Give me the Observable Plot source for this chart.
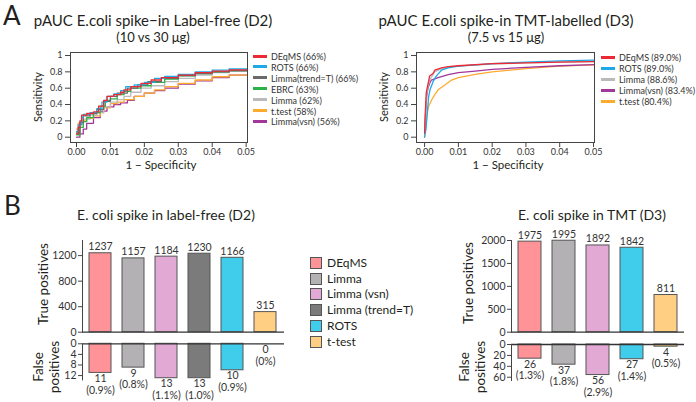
<!DOCTYPE html>
<html><head><meta charset="utf-8">
<script src="https://cdn.jsdelivr.net/npm/d3@7"></script>
<script src="https://cdn.jsdelivr.net/npm/@observablehq/plot@0.6"></script>
<style>
body{margin:0;background:#fff;}
#fig{position:relative;width:696px;height:402px;overflow:hidden;font-family:Lato,"Noto Sans",sans-serif;color:#231f20;background:#fff;}
.t{position:absolute;white-space:nowrap;line-height:1;}
.c{transform:translate(-50%,-50%);}
.l{transform:translate(0,-50%);}
.r{transform:translate(-50%,-50%) rotate(-90deg);text-align:center;}
.plot{position:absolute;}
.plot svg{overflow:visible;}
</style></head><body><div id="fig"></div>
<script>
// ---------- Panel A data (ROC curves) ----------
const methodsD2 = ["DEqMS","ROTS","Limma(trend=T)","EBRC","Limma","t.test","Limma(vsn)"];
const pAucD2 = ["66%","66%","66%","63%","62%","58%","56%"];
const rocD2DEqMS = [[0,0.04],[0.0005,0.12],[0.001,0.2],[0.0015,0.27],[0.003,0.29],[0.005,0.31],[0.0065,0.38],[0.008,0.45],[0.009,0.5],[0.011,0.52],[0.013,0.55],[0.014,0.58],[0.016,0.62],[0.019,0.66],[0.022,0.7],[0.025,0.73],[0.03,0.76],[0.035,0.79],[0.04,0.81],[0.045,0.825],[0.0505,0.84]];
const rocD2ROTS = [[0,0.07],[0.0005,0.15],[0.0015,0.24],[0.002,0.28],[0.004,0.3],[0.006,0.35],[0.0075,0.43],[0.009,0.5],[0.011,0.53],[0.013,0.57],[0.0145,0.62],[0.017,0.64],[0.02,0.67],[0.023,0.72],[0.026,0.745],[0.03,0.77],[0.035,0.8],[0.04,0.82],[0.045,0.835],[0.0505,0.85]];
const rocD2Trend = [[0,0.05],[0.001,0.18],[0.002,0.26],[0.004,0.29],[0.006,0.34],[0.008,0.44],[0.01,0.5],[0.012,0.54],[0.015,0.6],[0.018,0.64],[0.021,0.68],[0.025,0.72],[0.03,0.755],[0.035,0.78],[0.04,0.8],[0.045,0.815],[0.0505,0.825]];
const rocD2EBRC = [[0,0.03],[0.001,0.12],[0.002,0.19],[0.003,0.24],[0.005,0.3],[0.007,0.38],[0.0085,0.45],[0.01,0.47],[0.012,0.52],[0.014,0.56],[0.016,0.6],[0.019,0.63],[0.022,0.67],[0.026,0.71],[0.03,0.75],[0.035,0.78],[0.04,0.8],[0.045,0.815],[0.0505,0.83]];
const rocD2Limma = [[0,0.06],[0.001,0.16],[0.002,0.22],[0.004,0.27],[0.006,0.3],[0.008,0.37],[0.01,0.43],[0.012,0.46],[0.014,0.5],[0.016,0.55],[0.019,0.6],[0.022,0.63],[0.026,0.68],[0.03,0.72],[0.035,0.76],[0.04,0.79],[0.045,0.805],[0.0505,0.815]];
const rocD2TTest = [[0,0.1],[0.0005,0.17],[0.0015,0.2],[0.003,0.23],[0.005,0.26],[0.007,0.3],[0.008,0.36],[0.01,0.41],[0.012,0.43],[0.014,0.46],[0.017,0.5],[0.02,0.54],[0.023,0.58],[0.026,0.62],[0.03,0.66],[0.035,0.7],[0.04,0.74],[0.045,0.76],[0.0505,0.78]];
const rocD2Vsn = [[0,0.0],[0.001,0.04],[0.002,0.1],[0.003,0.17],[0.005,0.24],[0.007,0.32],[0.009,0.37],[0.011,0.4],[0.013,0.42],[0.015,0.45],[0.017,0.5],[0.02,0.54],[0.023,0.57],[0.026,0.6],[0.03,0.65],[0.035,0.69],[0.04,0.73],[0.045,0.76],[0.0505,0.8]];
const rocD2 = [rocD2DEqMS, rocD2ROTS, rocD2Trend, rocD2EBRC, rocD2Limma, rocD2TTest, rocD2Vsn];

const methodsD3 = ["DEqMS","ROTS","Limma","Limma(vsn)","t.test"];
const pAucD3 = ["89.0%","89.0%","88.6%","83.4%","80.4%"];
const rocD3DEqMS = [[0,0.05],[0.0002,0.3],[0.0005,0.55],[0.001,0.65],[0.0015,0.75],[0.0025,0.78],[0.003,0.82],[0.005,0.85],[0.007,0.865],[0.01,0.875],[0.02,0.9],[0.03,0.91],[0.04,0.92],[0.0505,0.925]];
const rocD3ROTS = [[0,0.0],[0.0004,0.1],[0.0008,0.3],[0.0012,0.5],[0.0016,0.58],[0.0025,0.68],[0.0035,0.75],[0.005,0.82],[0.007,0.85],[0.01,0.87],[0.02,0.9],[0.03,0.92],[0.04,0.935],[0.0505,0.945]];
const rocD3Limma = [[0,0.05],[0.0003,0.3],[0.0006,0.52],[0.001,0.62],[0.0015,0.7],[0.003,0.8],[0.005,0.84],[0.007,0.86],[0.01,0.87],[0.02,0.895],[0.03,0.91],[0.04,0.92],[0.0505,0.93]];
const rocD3Vsn = [[0,0.05],[0.0003,0.3],[0.0006,0.5],[0.001,0.6],[0.0015,0.66],[0.002,0.7],[0.004,0.73],[0.007,0.765],[0.01,0.79],[0.015,0.81],[0.02,0.83],[0.03,0.855],[0.04,0.875],[0.0505,0.89]];
const rocD3TTest = [[0,0.0],[0.0004,0.15],[0.0008,0.3],[0.0012,0.38],[0.002,0.45],[0.003,0.52],[0.004,0.58],[0.006,0.64],[0.008,0.7],[0.01,0.73],[0.015,0.77],[0.02,0.8],[0.03,0.84],[0.04,0.87],[0.0505,0.885]];
const rocD3 = [rocD3DEqMS, rocD3ROTS, rocD3Limma, rocD3Vsn, rocD3TTest];

const rocXTicks = [0, 0.01, 0.02, 0.03, 0.04, 0.05];
const rocYTicks = [0, 0.2, 0.4, 0.6, 0.8, 1];

// ---------- Panel B data (bar charts) ----------
const barMethodsD2 = ["DEqMS","Limma","Limma (vsn)","Limma (trend=T)","ROTS","t-test"];
const tpD2 = [1237, 1157, 1184, 1230, 1166, 315];
const fpD2 = [11, 9, 13, 13, 10, 0];
const fpPctD2 = ["0.9%","0.8%","1.1%","1.0%","0.9%","0%"];
const tpTicksD2 = [0, 400, 800, 1200];
const fpTicksD2 = [0, 4, 8, 12];

const barMethodsD3 = ["DEqMS","Limma","Limma (vsn)","ROTS","t-test"];
const tpD3 = [1975, 1995, 1892, 1842, 811];
const fpD3 = [26, 37, 56, 27, 4];
const fpPctD3 = ["1.3%","1.8%","2.9%","1.4%","0.5%"];
const tpTicksD3 = [0, 500, 1000, 1500, 2000];
const fpTicksD3 = [0, 20, 40, 60];

const legendMethods = ["DEqMS","Limma","Limma (vsn)","Limma (trend=T)","ROTS","t-test"];

// ---------- styles ----------
const rocColor = {"DEqMS":"#ed2a33","ROTS":"#1eaae7","Limma(trend=T)":"#6a6a6a","EBRC":"#2bb34a","Limma":"#bababa","t.test":"#fdab2f","Limma(vsn)":"#a2379b"};
const barColor = {"DEqMS":"#ff9398","Limma":"#b3b1b3","Limma (vsn)":"#e1a9d3","Limma (trend=T)":"#7b7b7b","ROTS":"#40cdec","t-test":"#ffd084"};
const FONT = 'Lato, "Noto Sans", sans-serif';

const fig = document.getElementById("fig");
function place(node, left, top) {
  const d = document.createElement("div");
  d.className = "plot"; d.style.left = left + "px"; d.style.top = top + "px";
  d.appendChild(node); fig.appendChild(d);
}
function txt(s, x, y, size, cls, extra) {
  const d = document.createElement("div");
  d.className = "t " + cls; d.textContent = s;
  d.style.left = x + "px"; d.style.top = y + "px"; d.style.fontSize = size + "px";
  if (extra) Object.assign(d.style, extra);
  fig.appendChild(d); return d;
}

function rocPlot(methods, series, xDomain, curve, marginLeft, marginRight) {
  const rows = [];
  for (let i = methods.length - 1; i >= 0; i--)
    for (const [x, y] of series[i]) rows.push({method: methods[i], x, y});
  return Plot.plot({
    width: 250, height: 136,
    marginLeft, marginRight, marginTop: 12, marginBottom: 34,
    style: {fontFamily: FONT, fontSize: "9px", color: "#333", background: "transparent"},
    x: {domain: xDomain},
    y: {domain: [-0.065, 1.037]},
    color: {domain: Object.keys(rocColor), range: Object.values(rocColor)},
    marks: [
      Plot.line(rows, {x: "x", y: "y", z: "method", stroke: "method", strokeWidth: 1.3, curve, clip: true}),
      Plot.frame({stroke: "#444", strokeWidth: 1}),
      Plot.axisX({ticks: rocXTicks, tickFormat: d3.format(".2f"), tickSize: 5, tickPadding: 1, label: null, stroke: "#444"}),
      Plot.axisY({ticks: rocYTicks, tickFormat: d3.format("~g"), tickSize: 5, tickPadding: 3, label: null, stroke: "#444"})
    ]
  });
}

function tpPlot(methods, tp, yDomain, ticks, width, marginLeft, marginRight) {
  const rows = methods.map((m, i) => ({m, v: tp[i]}));
  return Plot.plot({
    width, height: 104, marginLeft, marginRight, marginTop: 10, marginBottom: 2.3,
    style: {fontFamily: FONT, fontSize: "10.5px", color: "#333", background: "transparent"},
    x: {domain: methods, paddingInner: 0.33, paddingOuter: 0.165, axis: null},
    y: {domain: yDomain},
    color: {domain: Object.keys(barColor), range: Object.values(barColor)},
    marks: [
      Plot.barY(rows, {x: "m", y: "v", fill: "m", stroke: "#555", strokeWidth: 1}),
      Plot.text(rows, {x: "m", y: "v", text: d => String(d.v), lineAnchor: "bottom", dy: -3, fontSize: 10.5, fill: "#333"}),
      Plot.ruleY([0], {stroke: "#333", strokeWidth: 1.3}),
      Plot.frame({anchor: "left", stroke: "#444"}),
      Plot.axisY({ticks, tickFormat: d3.format("d"), tickSize: 4, tickPadding: 2, label: null, stroke: "#444"})
    ]
  });
}

function fpPlot(methods, fp, pct, yDomain, ticks, width, marginLeft, marginRight, marginTop) {
  const rows = methods.map((m, i) => ({m, v: fp[i], p: pct[i]}));
  return Plot.plot({
    width, height: 64, marginLeft, marginRight, marginTop, marginBottom: 64 - marginTop - 36,
    style: {fontFamily: FONT, fontSize: "10.5px", color: "#333", background: "transparent"},
    x: {domain: methods, paddingInner: 0.33, paddingOuter: 0.165, axis: null},
    y: {domain: yDomain, reverse: true},
    color: {domain: Object.keys(barColor), range: Object.values(barColor)},
    marks: [
      Plot.barY(rows, {x: "m", y: "v", fill: "m", stroke: "#555", strokeWidth: 1}),
      Plot.text(rows, {x: "m", y: "v", text: d => d.v + "\n(" + d.p + ")", lineAnchor: "top", dy: 1, lineHeight: 1.1, fontSize: 10.5, fill: "#333"}),
      Plot.ruleY([0], {stroke: "#333", strokeWidth: 1.3}),
      Plot.frame({anchor: "left", stroke: "#444"}),
      Plot.axisY({ticks, tickFormat: d3.format("d"), tickSize: 4, tickPadding: 2, label: null, stroke: "#444"})
    ]
  });
}

// ---------- Panel A ----------
txt("A", 3, 2, 26, "", {transform: "none"});
txt("pAUC E.coli spike\u2212in Label-free (D2)", 153, 20, 15, "c");
txt("(10 vs 30 \u03bcg)", 153, 37, 13, "c");
place(rocPlot(methodsD2, rocD2, [-0.00177, 0.0504], "step-after", 70, 3), 0, 40);
txt("Sensitivity", 37, 97, 11, "r");
txt("1 \u2212 Specificity", 161, 165, 11.5, "c");

txt("pAUC E.coli spike-in TMT-labelled (D3)", 506, 20, 15, "c");
txt("(7.5 vs 15 \u03bcg)", 506, 37, 13, "c");
place(rocPlot(methodsD3, rocD3, [-0.0024, 0.0503], "linear", 70, 2), 346, 40);
txt("Sensitivity", 383, 97, 11, "r");
txt("1 \u2212 Specificity", 508, 165, 11.5, "c");

function rocLegend(methods, auc, x, y0, step) {
  methods.forEach((m, i) => {
    const y = y0 + i * step;
    const sw = document.createElement("div");
    sw.style.cssText = `position:absolute;left:${x}px;top:${y - 1.5}px;width:14px;height:3px;background:${rocColor[m]}`;
    fig.appendChild(sw);
    const label = m + " (" + auc[i] + ")";
    txt(label, x + 18, y, 9, "l", {color: "#333"});
  });
}
rocLegend(methodsD2, pAucD2, 253, 56, 10.9);
rocLegend(methodsD3, pAucD3, 601, 57, 11);

// ---------- Panel B ----------
txt("B", 4, 192, 26, "", {transform: "none"});
txt("E. coli spike in label-free (D2)", 166, 215, 14, "c");
place(tpPlot(barMethodsD2, tpD2, [0, 1437], tpTicksD2, 290, 82, 6), 0, 230);
place(fpPlot(barMethodsD2, fpD2, fpPctD2, [0, 13.6], fpTicksD2, 290, 82, 6, 5.3), 0, 338);
txt("True positives", 44, 284, 13.5, "r");
txt("False\npositives", 46, 367, 13.5, "r", {whiteSpace: "pre", lineHeight: "16px"});

txt("E. coli spike in TMT (D3)", 592, 215, 14, "c");
place(tpPlot(barMethodsD3, tpD3, [0, 2000], tpTicksD3, 345, 165, 7), 346, 230);
place(fpPlot(barMethodsD3, fpD3, fpPctD3, [0, 66], fpTicksD3, 345, 165, 7, 6), 346, 338);
txt("True positives", 469, 283, 13.5, "r");
txt("False\npositives", 472, 367, 13.5, "r", {whiteSpace: "pre", lineHeight: "16px"});

legendMethods.forEach((m, i) => {
  const y = 262.7 + i * 15.8;
  const b = document.createElement("div");
  b.style.cssText = `position:absolute;left:310px;top:${y - 6}px;width:10px;height:10px;background:${barColor[m]};border:1px solid #555`;
  fig.appendChild(b);
  txt(m, 327, y, 12, "l", {color: "#231f20"});
});
</script></body></html>
